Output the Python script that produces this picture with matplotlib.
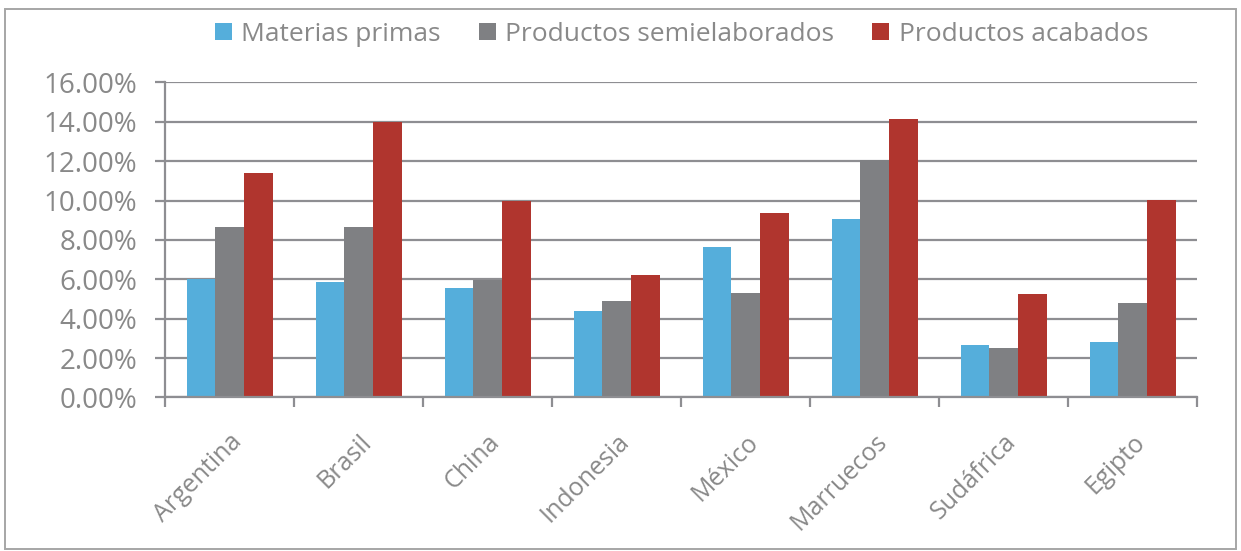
import matplotlib
matplotlib.use('Agg')
import matplotlib.pyplot as plt
import numpy as np
from matplotlib.patches import Rectangle
from matplotlib.ticker import FuncFormatter, MultipleLocator

paises = ['Argentina', 'Brasil', 'China', 'Indonesia', 'México', 'Marruecos', 'Sudáfrica', 'Egipto']
materias_primas = [6.00, 5.85, 5.58, 4.37, 7.62, 9.06, 2.65, 2.83]
semielaborados = [8.65, 8.68, 5.99, 4.91, 5.30, 12.04, 2.53, 4.81]
acabados = [11.40, 13.98, 9.98, 6.24, 9.38, 14.17, 5.28, 10.02]
series = ['Materias primas', 'Productos semielaborados', 'Productos acabados']

colores = ['#55AEDB', '#7F8083', '#B0352E']
gris_texto = '#898989'
gris_linea = '#8E8E92'

plt.rcParams['font.family'] = ['Open Sans', 'DejaVu Sans']

fig = plt.figure(figsize=(12.41, 5.51), dpi=100)
ax = fig.add_axes([0.133, 0.2786, 0.8316, 0.5717])

x = np.arange(len(paises))
w = 0.222
for i, (vals, col) in enumerate(zip([materias_primas, semielaborados, acabados], colores)):
	ax.bar(x + (i - 1) * w, vals, width=w, color=col, label=series[i], zorder=3)

ax.set_xlim(-0.5, len(paises) - 0.5)
ax.set_ylim(0, 16)

# Grid and axes
ax.yaxis.set_major_locator(MultipleLocator(2))
ax.yaxis.set_major_formatter(FuncFormatter(lambda v, p: '{:.2f}%'.format(v)))
ax.grid(axis='y', color=gris_linea, linewidth=1.6, zorder=0)
for s in ['top', 'right']:
	ax.spines[s].set_visible(False)
for s in ['left', 'bottom']:
	ax.spines[s].set_color(gris_linea)
	ax.spines[s].set_linewidth(1.6)
	ax.spines[s].set_zorder(4)

ax.tick_params(axis='y', length=7, width=1.6, color=gris_linea, pad=13,
	labelsize=20, labelcolor=gris_texto)

ax.set_xticks(x)
ax.set_xticks(np.arange(len(paises) + 1) - 0.5, minor=True)
ax.tick_params(axis='x', which='major', length=0, pad=23)
ax.tick_params(axis='x', which='minor', length=7, width=1.6, color=gris_linea)
ax.set_xticklabels(paises, rotation=45, ha='right', rotation_mode='anchor',
	fontsize=18, color=gris_texto)

fig.legend(loc='center', bbox_to_anchor=(0.549, 0.938), ncol=3, frameon=False,
	fontsize=19, labelcolor=gris_texto, handlelength=0.65, handleheight=0.65,
	handletextpad=0.35, columnspacing=1.45)

# Outer frame
fig.add_artist(Rectangle((0.004, 0.004), 0.992, 0.98, transform=fig.transFigure,
	fill=False, edgecolor='#A6A6A6', linewidth=1.4))

plt.savefig('out.png', dpi=100)
plt.close()
